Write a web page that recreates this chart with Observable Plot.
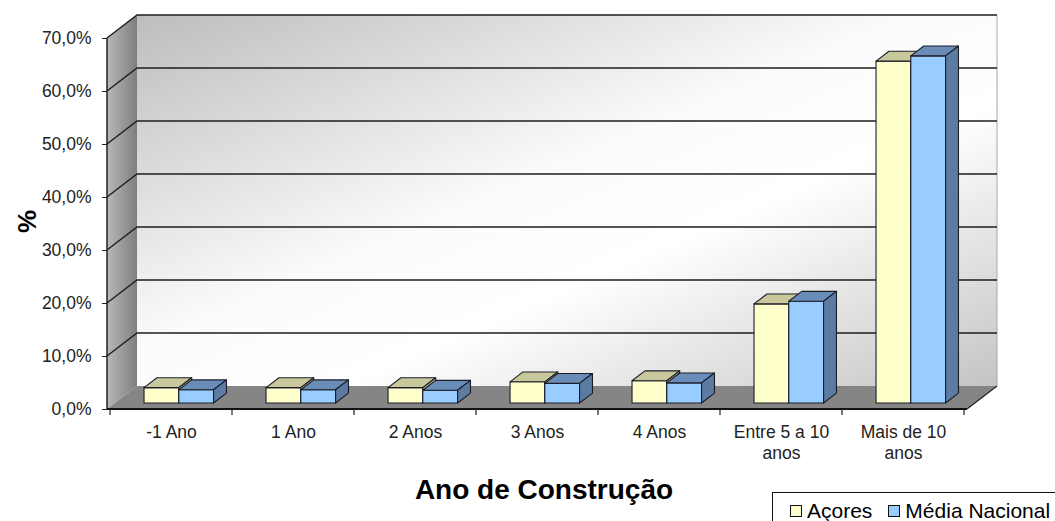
<!DOCTYPE html>
<html>
<head>
<meta charset="utf-8">
<script src="https://cdn.jsdelivr.net/npm/d3@7"></script>
<script src="https://cdn.jsdelivr.net/npm/@observablehq/plot@0.6"></script>
<style>
  body { margin: 0; background: #fff; font-family: "Liberation Sans", Arial, sans-serif; }
  #wrap { position: relative; width: 1055px; height: 521px; overflow: hidden; }
  #title { position: absolute; left: 0; top: 476px; width: 1088px; text-align: center;
           font-weight: bold; font-size: 28px; line-height: 28px; color: #000; }
  #legend { position: absolute; left: 772px; top: 492px; width: 330px; height: 40px;
            border: 1px solid #111; box-sizing: border-box; padding: 7px 0 0 17px;
            display: flex; align-items: flex-start;
            font-size: 21px; line-height: 21px; color: #000; }
  .item { display: flex; align-items: center; margin-right: 16px; }
  .sw { width: 10px; height: 10px; border: 1px solid #111; margin-right: 5px; }
</style>
</head>
<body>
<div id="wrap">
  <div id="chart"></div>
  <div id="title"></div>
  <div id="legend"></div>
</div>
<script>
// ---- data ----
const categories = ["-1 Ano", "1 Ano", "2 Anos", "3 Anos", "4 Anos", "Entre 5 a 10 anos", "Mais de 10 anos"];
const xTickLabels = ["-1 Ano", "1 Ano", "2 Anos", "3 Anos", "4 Anos", "Entre 5 a 10\nanos", "Mais de 10\nanos"];
const seriesNames = ["Açores", "Média Nacional"];
const acores = [2.9, 2.9, 2.9, 4.0, 4.2, 18.7, 64.5];
const mediaNacional = [2.5, 2.5, 2.4, 3.7, 3.8, 19.2, 65.5];
const yTicks = [0, 10, 20, 30, 40, 50, 60, 70];
const titleText = "Ano de Construção";
const yLabel = "%";

// ---- styles ----
const seriesStyle = {
  "Açores": {front: "#FFFFCC", top: "#C8C89C", side: "#B4B488"},
  "Média Nacional": {front: "#99CCFF", top: "#6A8CB8", side: "#5B7BA3"}
};
const DX = 30, DY = 23;          // depth of the 3-D box
const F0 = 0.26, F1 = 0.69;      // bar depth position (fraction of box depth)
const GROUP = 0.57;              // fraction of the band used by the bar pair

const rows = categories.flatMap((c, i) => [
  {cat: c, serie: seriesNames[0], value: acores[i]},
  {cat: c, serie: seriesNames[1], value: mediaNacional[i]}
]);

function walls(index, {x, y}, values, dim) {
  const x0 = dim.marginLeft, x1 = dim.width - dim.marginRight;
  const yB = y(0), yT = y(yTicks[yTicks.length - 1]);
  const g = d3.create("svg:g");
  const defs = g.append("defs");
  const bg = defs.append("linearGradient").attr("id", "backGrad")
    .attr("x1", 0).attr("y1", 0).attr("x2", 1).attr("y2", 1);
  bg.append("stop").attr("offset", "0%").attr("stop-color", "#bdbdbd");
  bg.append("stop").attr("offset", "45%").attr("stop-color", "#fbfbfb");
  bg.append("stop").attr("offset", "62%").attr("stop-color", "#ffffff");
  bg.append("stop").attr("offset", "100%").attr("stop-color", "#c4c4c4");
  const sg = defs.append("linearGradient").attr("id", "sideGrad")
    .attr("x1", 0).attr("y1", 0).attr("x2", 1).attr("y2", 0);
  sg.append("stop").attr("offset", "0%").attr("stop-color", "#b8b8b8");
  sg.append("stop").attr("offset", "100%").attr("stop-color", "#7e7e7e");

  // back wall
  g.append("rect").attr("x", x0 + DX).attr("y", yT - DY)
    .attr("width", x1 - x0).attr("height", yB - yT).attr("fill", "url(#backGrad)");
  g.append("line").attr("x1", x1 + DX).attr("x2", x1 + DX).attr("y1", yT - DY).attr("y2", yB - DY)
    .attr("stroke", "#a8a8a8").attr("stroke-width", 1);
  // side wall
  g.append("path").attr("d", `M${x0},${yB}L${x0},${yT}L${x0 + DX},${yT - DY}L${x0 + DX},${yB - DY}Z`)
    .attr("fill", "url(#sideGrad)");
  // floor
  g.append("path").attr("d", `M${x0},${yB}L${x1},${yB}L${x1 + DX},${yB - DY}L${x0 + DX},${yB - DY}Z`)
    .attr("fill", "#858585");
  g.append("line").attr("x1", x1).attr("y1", yB).attr("x2", x1 + DX).attr("y2", yB - DY)
    .attr("stroke", "#222").attr("stroke-width", 1.2);
  // gridlines
  for (const t of yTicks) {
    if (t === 0) continue;
    const yy = y(t);
    g.append("path").attr("d", `M${x0},${yy}L${x0 + DX},${yy - DY}L${x1 + DX},${yy - DY}`)
      .attr("fill", "none").attr("stroke", "#1e1e1e").attr("stroke-width", 1.4);
  }
  // front axes
  g.append("line").attr("x1", x0).attr("x2", x0).attr("y1", yB).attr("y2", yT)
    .attr("stroke", "#222").attr("stroke-width", 1.5);
  g.append("line").attr("x1", x0).attr("x2", x1).attr("y1", yB).attr("y2", yB)
    .attr("stroke", "#111").attr("stroke-width", 2.2);
  // category boundary ticks
  const bw = x.bandwidth ? x.bandwidth() : (x1 - x0) / categories.length;
  const bounds = categories.map(c => x(c)).concat([x(categories[categories.length - 1]) + bw]);
  for (const b of bounds) {
    g.append("line").attr("x1", b).attr("x2", b).attr("y1", yB).attr("y2", yB + 6)
      .attr("stroke", "#222").attr("stroke-width", 1.2);
  }
  return g.node();
}

function bars(index, {x, y}) {
  const g = d3.create("svg:g").attr("stroke", "#1c1c28").attr("stroke-width", 1.1)
    .attr("stroke-linejoin", "round");
  const bw = x.bandwidth();
  const gw = bw * GROUP;
  const sub = d3.scaleBand().domain(seriesNames).range([-gw / 2, gw / 2]);
  const fx = DX * F0, fy = DY * F0, ddx = DX * (F1 - F0), ddy = DY * (F1 - F0);
  for (const r of rows) {
    const st = seriesStyle[r.serie];
    const xl = x(r.cat) + bw / 2 + sub(r.serie) + fx;
    const xr = xl + sub.bandwidth();
    const yb = y(0) - fy, yt = y(r.value) - fy;
    g.append("rect").attr("x", xl).attr("y", yt).attr("width", xr - xl).attr("height", yb - yt)
      .attr("fill", st.front);
    g.append("path").attr("d", `M${xl},${yt}L${xr},${yt}L${xr + ddx},${yt - ddy}L${xl + ddx},${yt - ddy}Z`)
      .attr("fill", st.top);
    g.append("path").attr("d", `M${xr},${yt}L${xr + ddx},${yt - ddy}L${xr + ddx},${yb - ddy}L${xr},${yb}Z`)
      .attr("fill", st.side);
  }
  return g.node();
}

const fmt = d => d.toFixed(1).replace(".", ",") + "%";

const chart = Plot.plot({
  width: 1055,
  height: 470,
  marginLeft: 107,
  marginRight: 88,
  marginTop: 38,
  marginBottom: 61,
  style: {fontFamily: "'Liberation Sans', Arial, sans-serif", fontSize: "17.5px", color: "#222", background: "transparent"},
  x: {type: "band", domain: categories, padding: 0},
  y: {domain: [0, 70]},
  marks: [
    walls,
    Plot.axisY(yTicks, {tickSize: 5, tickPadding: 11, tickFormat: fmt, label: null, stroke: "#222"}),
    Plot.axisX(categories, {tickSize: 0, tickPadding: 14, lineHeight: 1.18, label: null,
      tickFormat: d => xTickLabels[categories.indexOf(d)]}),
    Plot.text([yLabel], {frameAnchor: "left", dx: -80, dy: 9, rotate: -90, text: d => d,
      fontSize: 26, fontWeight: "bold", fill: "#000"}),
    bars
  ]
});
document.getElementById("chart").appendChild(chart);
document.getElementById("title").textContent = titleText;

const legend = document.getElementById("legend");
for (const s of seriesNames) {
  const it = document.createElement("div");
  it.className = "item";
  const sw = document.createElement("div");
  sw.className = "sw";
  sw.style.background = seriesStyle[s].front;
  it.appendChild(sw);
  const t = document.createElement("span");
  t.textContent = s;
  it.appendChild(t);
  legend.appendChild(it);
}
</script>
</body>
</html>
